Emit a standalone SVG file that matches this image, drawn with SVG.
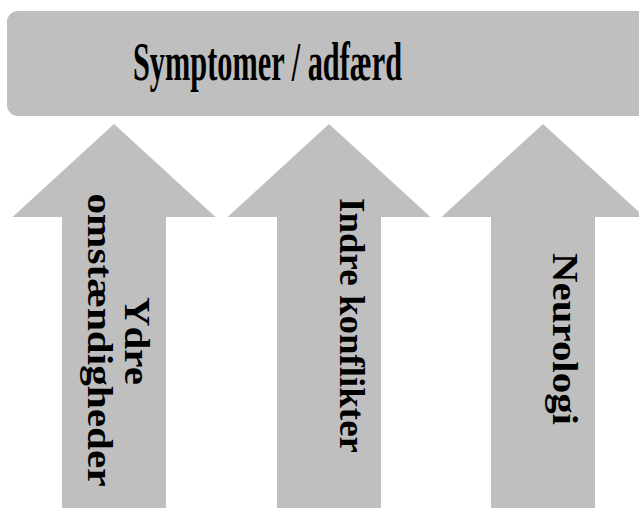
<svg xmlns="http://www.w3.org/2000/svg" width="639" height="508" viewBox="0 0 639 508">
<style>
.shape{fill:#bfbfbf;stroke:none}
.lbl{font-family:"Liberation Serif","Times New Roman",serif;font-weight:bold;fill:#000;text-anchor:middle}
.arr{font-size:35px}
</style>
<rect width="639" height="508" fill="#fff"/>
<g id="node-symptomer">
<rect class="shape" x="7" y="11" width="645" height="105" rx="11" ry="11"/>
<text class="lbl" x="267.5" y="80" font-size="54" textLength="269" lengthAdjust="spacingAndGlyphs">Symptomer / adfærd</text>
</g>
<g id="node-ydre">
<polygon class="shape" points="114,124 12.5,217 62,217 62,508 166,508 166,217 215.5,217"/>
<text class="lbl arr" transform="translate(125,341) rotate(90)" x="0" y="0" textLength="88" lengthAdjust="spacingAndGlyphs">Ydre</text>
<text class="lbl arr" transform="translate(88,340) rotate(90)" x="0" y="0" textLength="293" lengthAdjust="spacingAndGlyphs">omstændigheder</text>
</g>
<g id="node-indre">
<polygon class="shape" points="329,124 227.5,217 277,217 277,508 381,508 381,217 430.5,217"/>
<text class="lbl arr" transform="translate(340,325.5) rotate(90)" x="0" y="0" textLength="255" lengthAdjust="spacingAndGlyphs">Indre konflikter</text>
</g>
<g id="node-neurologi">
<polygon class="shape" points="543,124 441.5,217 491,217 491,508 595,508 595,217 644.5,217"/>
<text class="lbl arr" transform="translate(553,339) rotate(90)" x="0" y="0" textLength="172" lengthAdjust="spacingAndGlyphs">Neurologi</text>
</g>
<g id="connectors"></g>
</svg>
